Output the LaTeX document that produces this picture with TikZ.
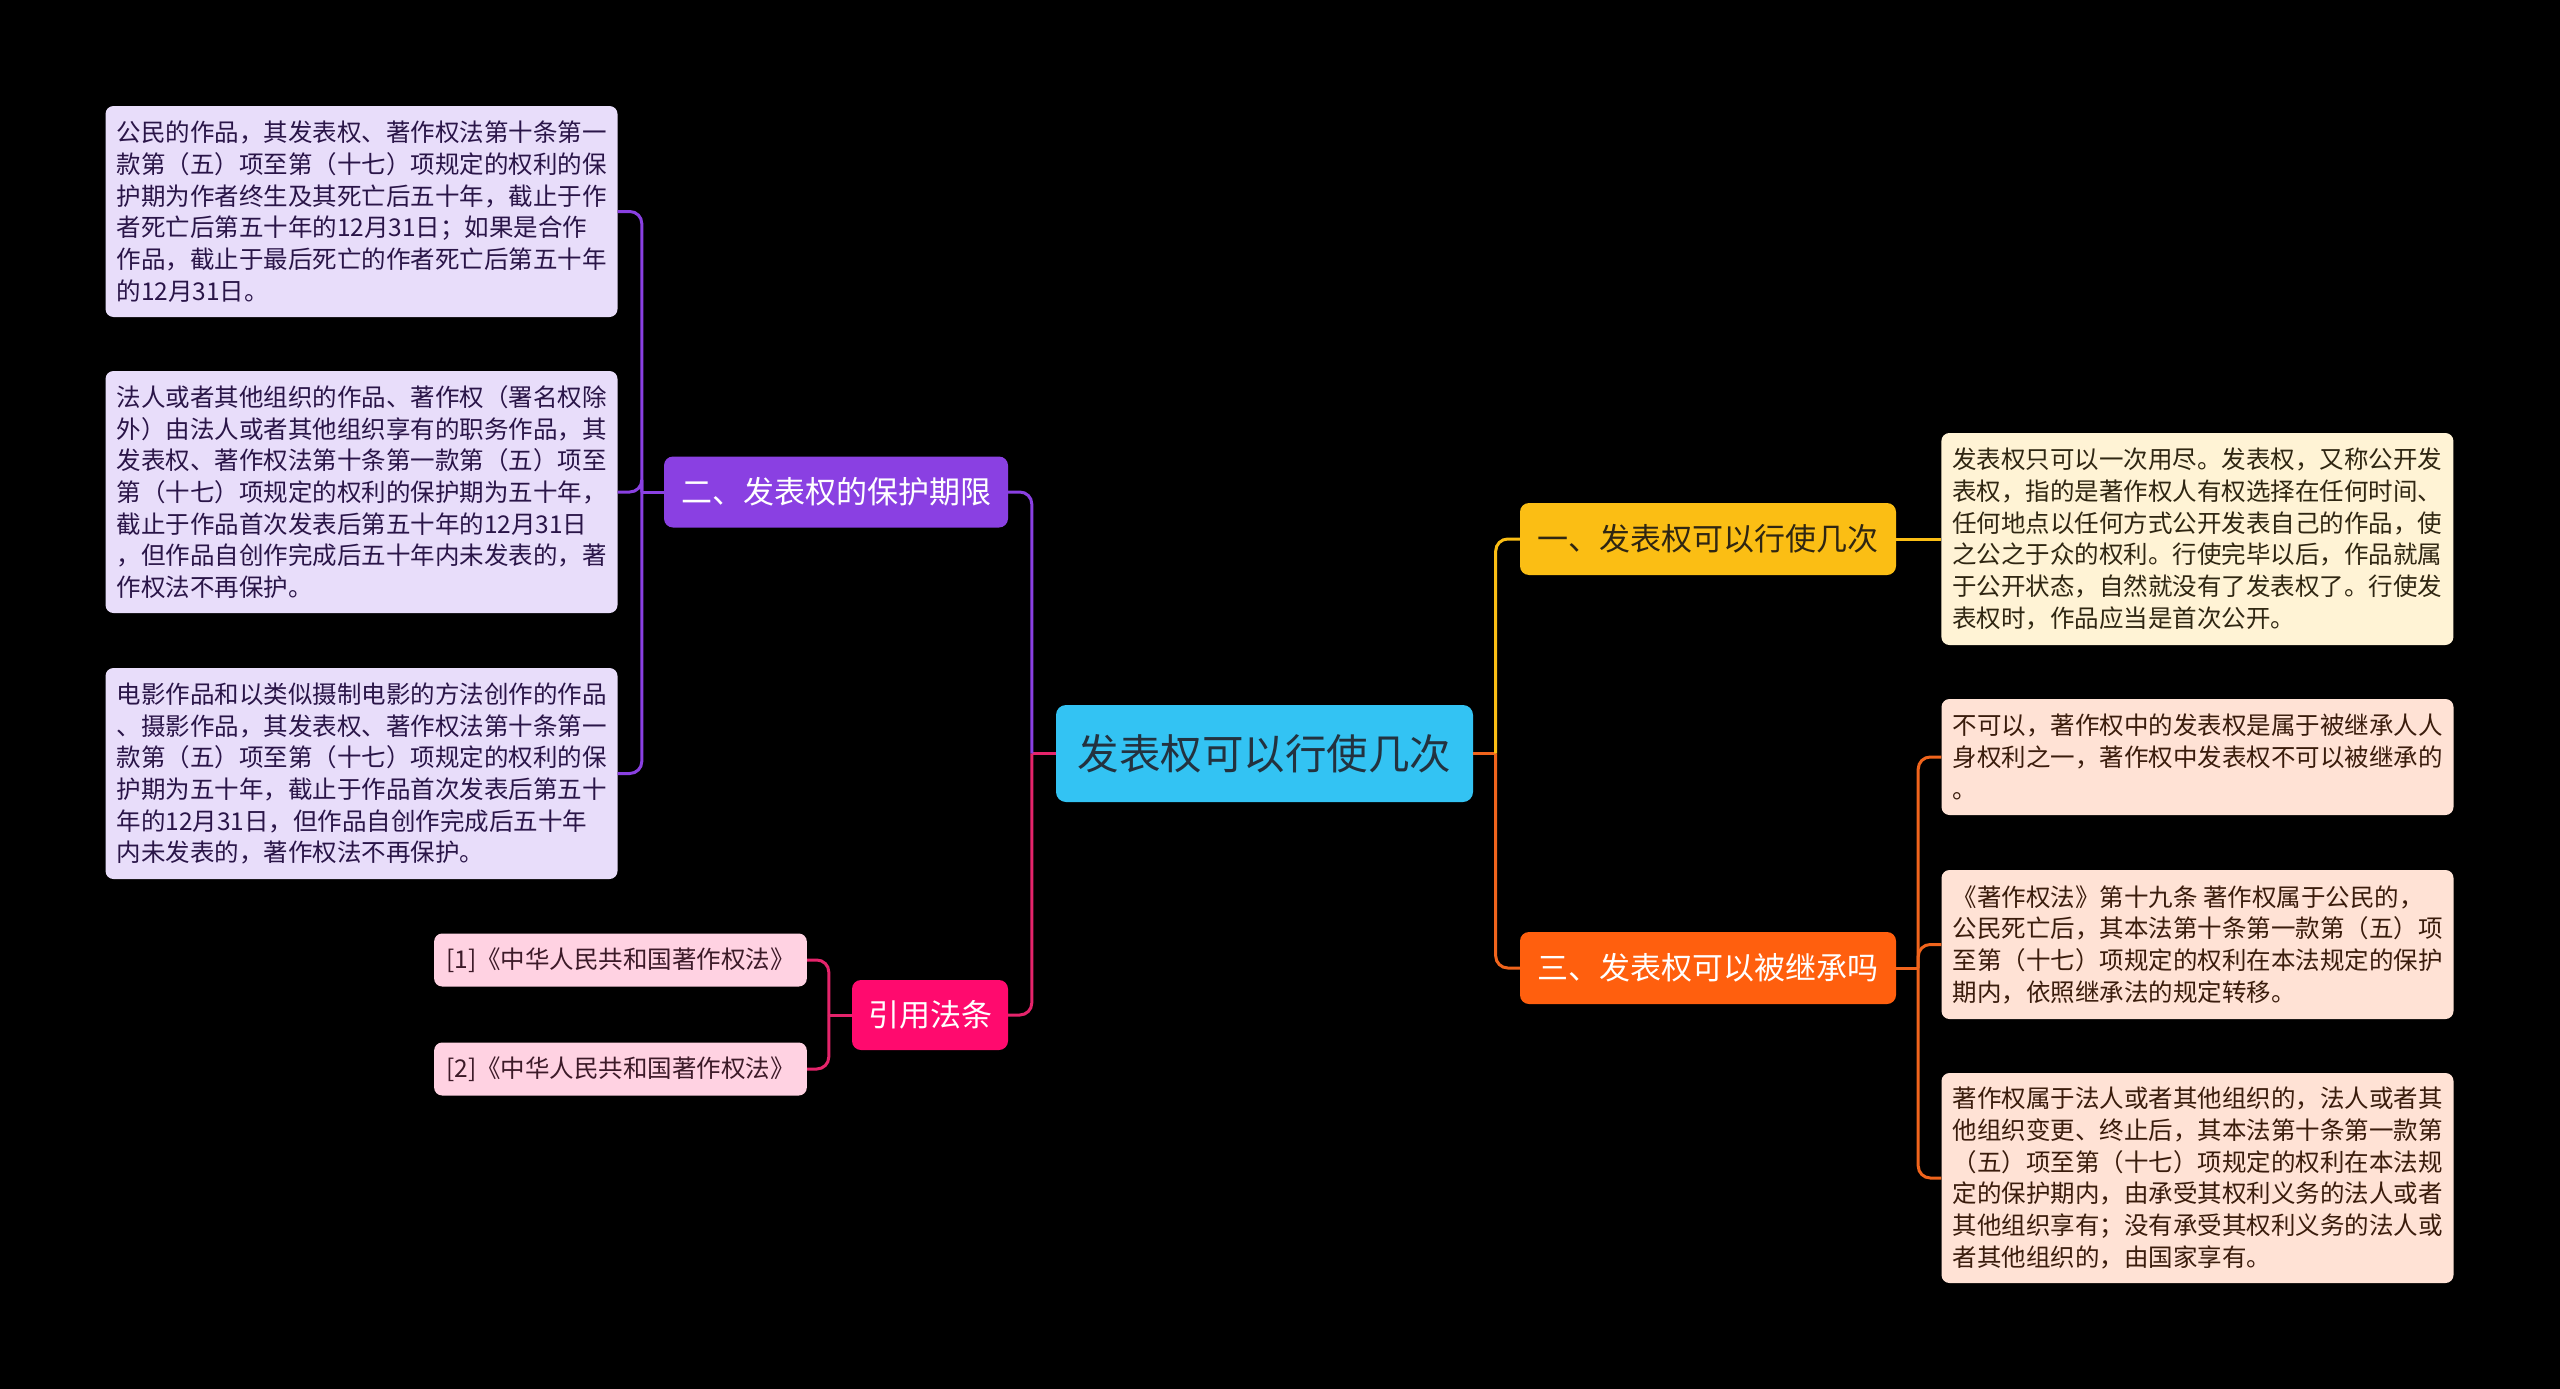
\documentclass[tikz,border=0pt]{standalone}
\usepackage{fontspec}
\setmainfont{Noto Sans CJK SC}
\usetikzlibrary{positioning}

\definecolor{topicblue}{HTML}{33C3F3}
\definecolor{topictext}{HTML}{23323F}
\definecolor{ybranch}{HTML}{FBBE14}
\definecolor{yleaf}{HTML}{FFF3D5}
\definecolor{ytext}{HTML}{2F2612}
\definecolor{obranch}{HTML}{FF5F0E}
\definecolor{oleaf}{HTML}{FFE2D5}
\definecolor{otext}{HTML}{3A1C0C}
\definecolor{oline}{HTML}{F0641C}
\definecolor{pbranch}{HTML}{8A40E2}
\definecolor{pleaf}{HTML}{E8DDFA}
\definecolor{ptext}{HTML}{2A1548}
\definecolor{kbranch}{HTML}{FF0A6E}
\definecolor{kleaf}{HTML}{FFD2E2}
\definecolor{ktext}{HTML}{3C1A28}
\definecolor{kline}{HTML}{E5246B}

\begin{document}
\begin{tikzpicture}[x=1pt, y=-1pt,
                topic/.style={fill=topicblue, text=topictext, rounded corners=10pt,
                              minimum width=417pt, minimum height=97pt, inner sep=0pt,
                              font=\fontsize{41.5}{48}\selectfont},
                branch/.style={rounded corners=9pt, minimum height=72pt, inner sep=0pt,
                               font=\fontsize{31}{38}\selectfont},
                leaf/.style={rounded corners=8pt, align=left, inner sep=0pt,
                             minimum width=512pt, font=\fontsize{24.5}{31.7}\selectfont},
                ref/.style={fill=kleaf, text=ktext, rounded corners=8pt, inner xsep=12pt,
                            minimum height=53pt, font=\fontsize{24.5}{31}\selectfont},
                link/.style={line width=3pt, rounded corners=12pt}]

                \useasboundingbox[fill=black] (0,0) rectangle (2560,1389);

                % Central topic
                \node[topic] (root) at (1264.5,753.5) {发表权可以行使几次};

                % Main branches, two on each side
                \node[branch, fill=ybranch, text=ytext, minimum width=376pt] (one) at (1708,539)
                    {一、发表权可以行使几次};
                \node[branch, fill=obranch, text=white, minimum width=376pt] (three) at (1708,968)
                    {三、发表权可以被继承吗};
                \node[branch, fill=pbranch, text=white, minimum width=344pt, minimum height=71pt] (two) at (836,492)
                    {二、发表权的保护期限};
                \node[branch, fill=kbranch, text=white, minimum width=156pt, minimum height=70pt] (laws) at (930,1015)
                    {引用法条};

                % Right side details
                \node[leaf, fill=yleaf, text=ytext, minimum height=212pt, right=45pt of one] (oneA)
                    {发表权只可以一次用尽。发表权，又称公开发\\表权，指的是著作权人有权选择在任何时间、\\任何地点以任何方式公开发表自己的作品，使\\之公之于众的权利。行使完毕以后，作品就属\\于公开状态，自然就没有了发表权了。行使发\\表权时，作品应当是首次公开。};
                \node[leaf, fill=oleaf, text=otext, minimum height=116pt] (threeA) at (2197.5,757)
                    {不可以，著作权中的发表权是属于被继承人人\\身权利之一，著作权中发表权不可以被继承的\\。};
                \node[leaf, fill=oleaf, text=otext, minimum height=149pt] (threeB) at (2197.5,944.5)
                    {《著作权法》第十九条 著作权属于公民的，\\公民死亡后，其本法第十条第一款第（五）项\\至第（十七）项规定的权利在本法规定的保护\\期内，依照继承法的规定转移。};
                \node[leaf, fill=oleaf, text=otext, minimum height=210pt] (threeC) at (2197.5,1178)
                    {著作权属于法人或者其他组织的，法人或者其\\他组织变更、终止后，其本法第十条第一款第\\（五）项至第（十七）项规定的权利在本法规\\定的保护期内，由承受其权利义务的法人或者\\其他组织享有；没有承受其权利义务的法人或\\者其他组织的，由国家享有。};

                % Left side details
                \node[leaf, fill=pleaf, text=ptext, minimum height=211pt] (twoA) at (361.5,211.5)
                    {公民的作品，其发表权、著作权法第十条第一\\款第（五）项至第（十七）项规定的权利的保\\护期为作者终生及其死亡后五十年，截止于作\\者死亡后第五十年的12月31日；如果是合作\\作品，截止于最后死亡的作者死亡后第五十年\\的12月31日。};
                \node[leaf, fill=pleaf, text=ptext, minimum height=242pt] (twoB) at (361.5,492)
                    {法人或者其他组织的作品、著作权（署名权除\\外）由法人或者其他组织享有的职务作品，其\\发表权、著作权法第十条第一款第（五）项至\\第（十七）项规定的权利的保护期为五十年，\\截止于作品首次发表后第五十年的12月31日\\，但作品自创作完成后五十年内未发表的，著\\作权法不再保护。};
                \node[leaf, fill=pleaf, text=ptext, minimum height=211pt] (twoC) at (361.5,773.5)
                    {电影作品和以类似摄制电影的方法创作的作品\\、摄影作品，其发表权、著作权法第十条第一\\款第（五）项至第（十七）项规定的权利的保\\护期为五十年，截止于作品首次发表后第五十\\年的12月31日，但作品自创作完成后五十年\\内未发表的，著作权法不再保护。};
                \node[ref, anchor=east] (lawA) at (807,960) {[1]《中华人民共和国著作权法》};
                \node[ref, anchor=east] (lawB) at (807,1069) {[2]《中华人民共和国著作权法》};

                % Junction points of the connectors
                \coordinate[right=22.5pt of root] (rj);
                \coordinate[left=24pt of root] (lj);
                \coordinate[right=22pt of three] (oj);
                \coordinate[left=22pt of two] (pj);
                \coordinate[left=23pt of laws] (kj);

                % Connectors on the right
                \draw[link, oline] (root.east) -- (rj);
                \draw[link, ybranch] (rj) |- (one.west);
                \draw[link, oline] (rj) |- (three.west);
                \draw[link, ybranch] (one.east) -- (oneA.west);
                \draw[link, oline] (three.east) -- (oj);
                \foreach \n in {threeA, threeB, threeC}
                    \draw[link, oline] (oj) |- (\n.west);

                % Connectors on the left
                \draw[link, kline] (root.west) -- (lj);
                \draw[link, pbranch] (lj) |- (two.east);
                \draw[link, kline] (lj) |- (laws.east);
                \draw[link, pbranch] (two.west) -- (pj);
                \foreach \n in {twoA, twoB, twoC}
                    \draw[link, pbranch] (pj) |- (\n.east);
                \draw[link, kline] (laws.west) -- (kj);
                \foreach \n in {lawA, lawB}
                    \draw[link, kline] (kj) |- (\n.east);
            \end{tikzpicture}
\end{document}
